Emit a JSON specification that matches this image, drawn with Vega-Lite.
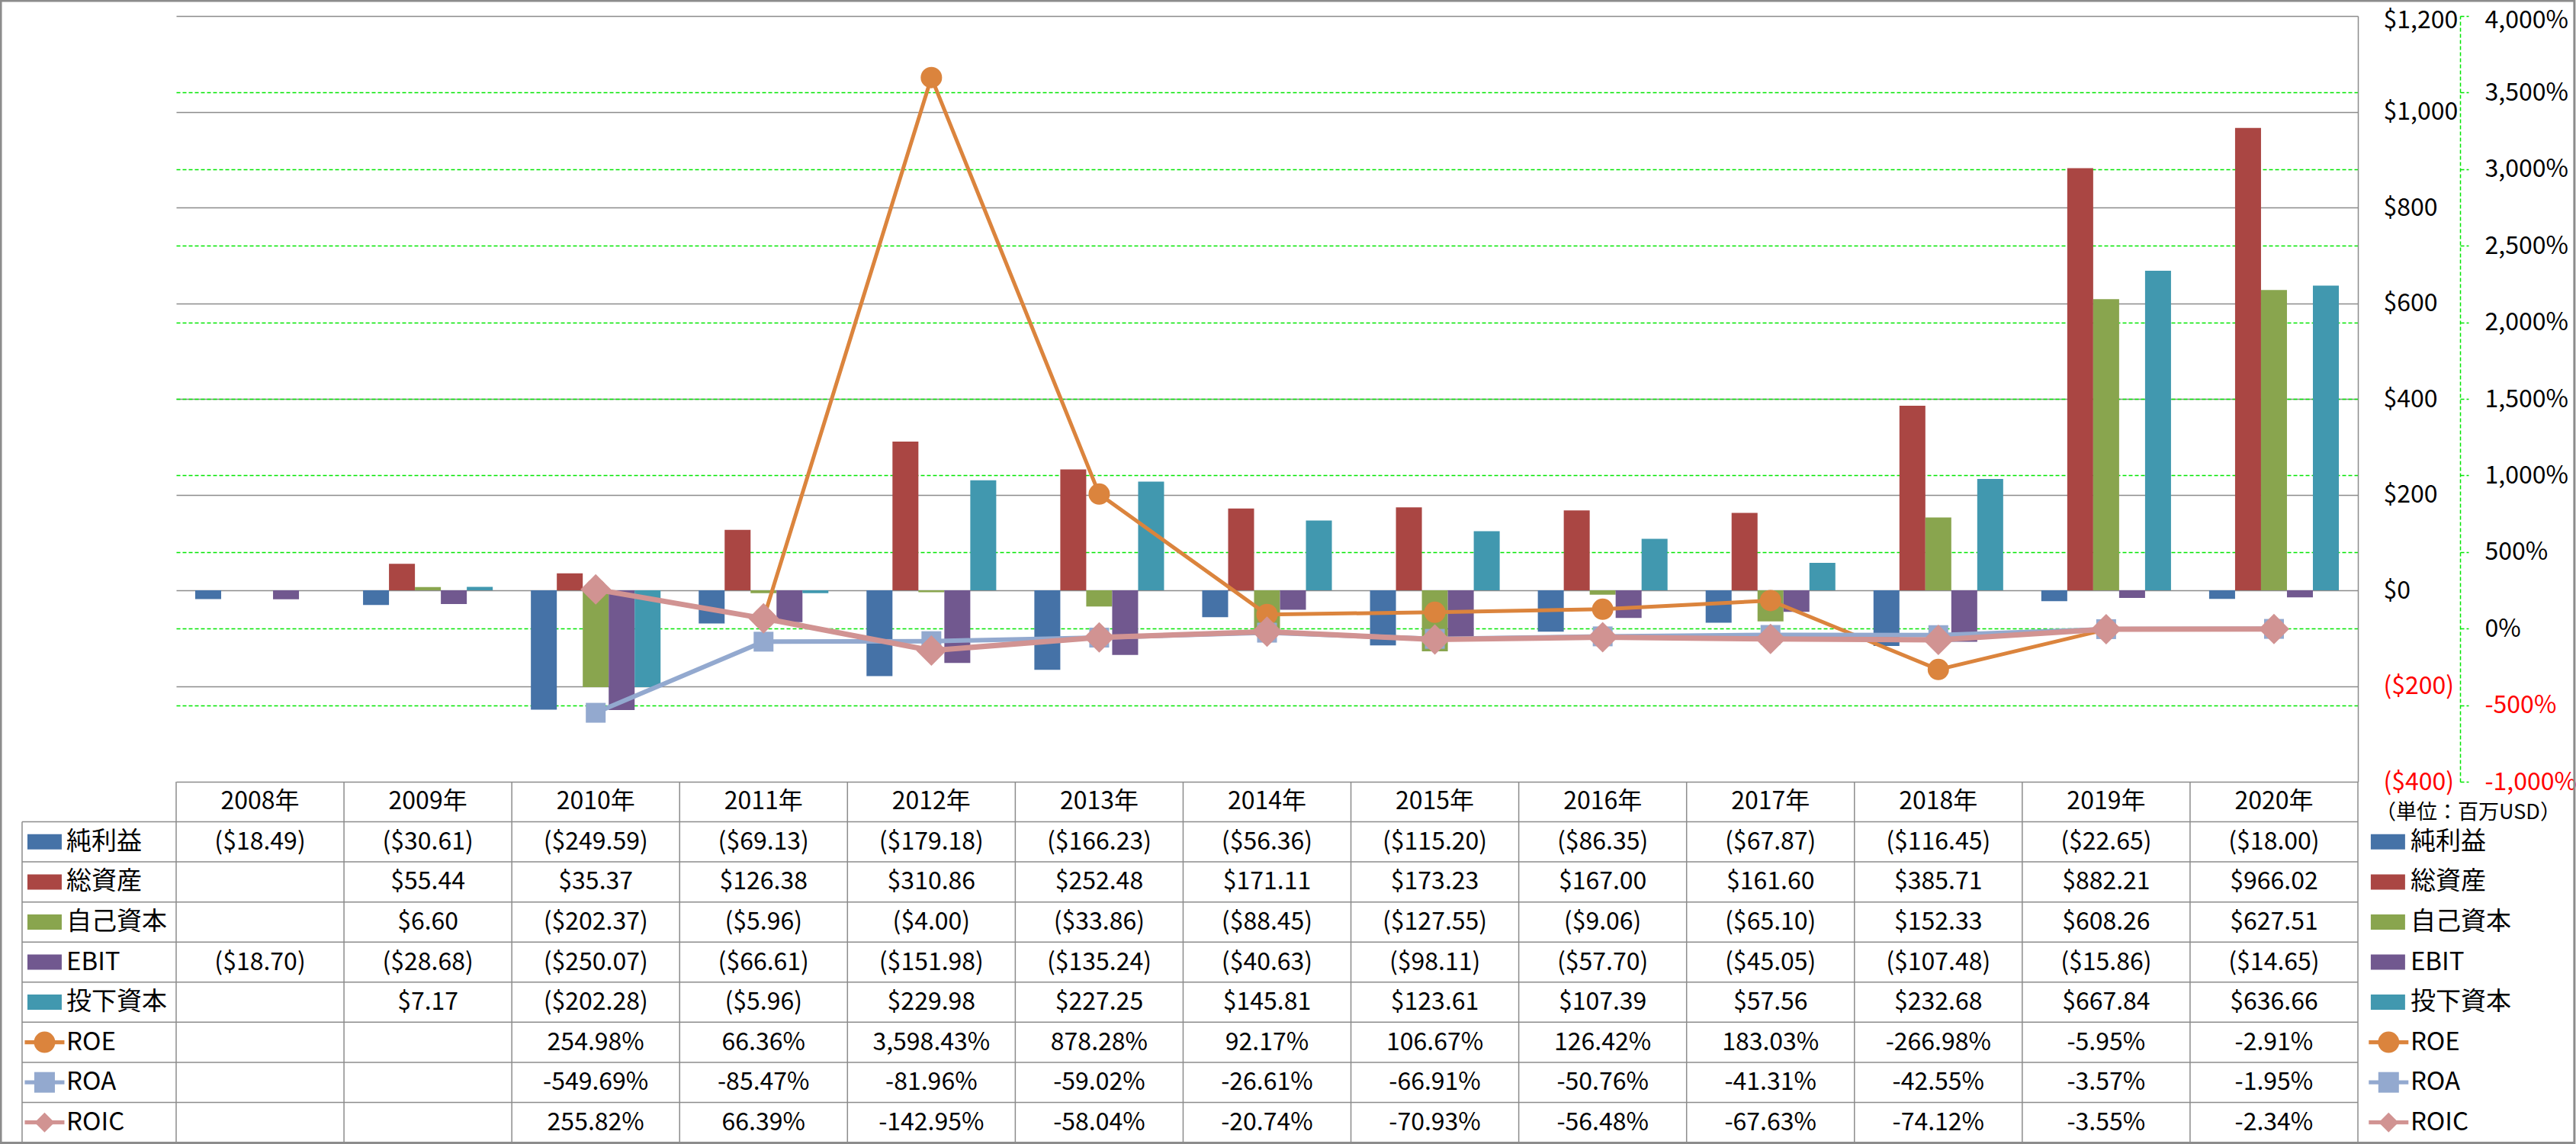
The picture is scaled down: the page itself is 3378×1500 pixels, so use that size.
{
"$schema": "https://vega.github.io/schema/vega-lite/v6.json",
"width": 2861, "height": 1477,
"autosize": {"type": "none"},
"padding": {"left": 231, "top": 21, "right": 286, "bottom": 2},
"background": "white",
"config": {
  "view": {"stroke": null},
  "font": "Noto Sans CJK JP",
  "locale": {"number": {"decimal": ".", "thousands": ",", "grouping": [3], "currency": ["$", ""], "minus": "-"}}
},
"datasets": {
  "fin": [
    {"year":2008,"series":"純利益","value":-18.49},{"year":2009,"series":"純利益","value":-30.61},{"year":2010,"series":"純利益","value":-249.59},{"year":2011,"series":"純利益","value":-69.13},{"year":2012,"series":"純利益","value":-179.18},{"year":2013,"series":"純利益","value":-166.23},{"year":2014,"series":"純利益","value":-56.36},{"year":2015,"series":"純利益","value":-115.20},{"year":2016,"series":"純利益","value":-86.35},{"year":2017,"series":"純利益","value":-67.87},{"year":2018,"series":"純利益","value":-116.45},{"year":2019,"series":"純利益","value":-22.65},{"year":2020,"series":"純利益","value":-18.00},
    {"year":2009,"series":"総資産","value":55.44},{"year":2010,"series":"総資産","value":35.37},{"year":2011,"series":"総資産","value":126.38},{"year":2012,"series":"総資産","value":310.86},{"year":2013,"series":"総資産","value":252.48},{"year":2014,"series":"総資産","value":171.11},{"year":2015,"series":"総資産","value":173.23},{"year":2016,"series":"総資産","value":167.00},{"year":2017,"series":"総資産","value":161.60},{"year":2018,"series":"総資産","value":385.71},{"year":2019,"series":"総資産","value":882.21},{"year":2020,"series":"総資産","value":966.02},
    {"year":2009,"series":"自己資本","value":6.60},{"year":2010,"series":"自己資本","value":-202.37},{"year":2011,"series":"自己資本","value":-5.96},{"year":2012,"series":"自己資本","value":-4.00},{"year":2013,"series":"自己資本","value":-33.86},{"year":2014,"series":"自己資本","value":-88.45},{"year":2015,"series":"自己資本","value":-127.55},{"year":2016,"series":"自己資本","value":-9.06},{"year":2017,"series":"自己資本","value":-65.10},{"year":2018,"series":"自己資本","value":152.33},{"year":2019,"series":"自己資本","value":608.26},{"year":2020,"series":"自己資本","value":627.51},
    {"year":2008,"series":"EBIT","value":-18.70},{"year":2009,"series":"EBIT","value":-28.68},{"year":2010,"series":"EBIT","value":-250.07},{"year":2011,"series":"EBIT","value":-66.61},{"year":2012,"series":"EBIT","value":-151.98},{"year":2013,"series":"EBIT","value":-135.24},{"year":2014,"series":"EBIT","value":-40.63},{"year":2015,"series":"EBIT","value":-98.11},{"year":2016,"series":"EBIT","value":-57.70},{"year":2017,"series":"EBIT","value":-45.05},{"year":2018,"series":"EBIT","value":-107.48},{"year":2019,"series":"EBIT","value":-15.86},{"year":2020,"series":"EBIT","value":-14.65},
    {"year":2009,"series":"投下資本","value":7.17},{"year":2010,"series":"投下資本","value":-202.28},{"year":2011,"series":"投下資本","value":-5.96},{"year":2012,"series":"投下資本","value":229.98},{"year":2013,"series":"投下資本","value":227.25},{"year":2014,"series":"投下資本","value":145.81},{"year":2015,"series":"投下資本","value":123.61},{"year":2016,"series":"投下資本","value":107.39},{"year":2017,"series":"投下資本","value":57.56},{"year":2018,"series":"投下資本","value":232.68},{"year":2019,"series":"投下資本","value":667.84},{"year":2020,"series":"投下資本","value":636.66}
  ],
  "ratio": [
    {"year":2010,"series":"ROE","value":2.5498},{"year":2011,"series":"ROE","value":0.6636},{"year":2012,"series":"ROE","value":35.9843},{"year":2013,"series":"ROE","value":8.7828},{"year":2014,"series":"ROE","value":0.9217},{"year":2015,"series":"ROE","value":1.0667},{"year":2016,"series":"ROE","value":1.2642},{"year":2017,"series":"ROE","value":1.8303},{"year":2018,"series":"ROE","value":-2.6698},{"year":2019,"series":"ROE","value":-0.0595},{"year":2020,"series":"ROE","value":-0.0291},
    {"year":2010,"series":"ROA","value":-5.4969},{"year":2011,"series":"ROA","value":-0.8547},{"year":2012,"series":"ROA","value":-0.8196},{"year":2013,"series":"ROA","value":-0.5902},{"year":2014,"series":"ROA","value":-0.2661},{"year":2015,"series":"ROA","value":-0.6691},{"year":2016,"series":"ROA","value":-0.5076},{"year":2017,"series":"ROA","value":-0.4131},{"year":2018,"series":"ROA","value":-0.4255},{"year":2019,"series":"ROA","value":-0.0357},{"year":2020,"series":"ROA","value":-0.0195},
    {"year":2010,"series":"ROIC","value":2.5582},{"year":2011,"series":"ROIC","value":0.6639},{"year":2012,"series":"ROIC","value":-1.4295},{"year":2013,"series":"ROIC","value":-0.5804},{"year":2014,"series":"ROIC","value":-0.2074},{"year":2015,"series":"ROIC","value":-0.7093},{"year":2016,"series":"ROIC","value":-0.5648},{"year":2017,"series":"ROIC","value":-0.6763},{"year":2018,"series":"ROIC","value":-0.7412},{"year":2019,"series":"ROIC","value":-0.0355},{"year":2020,"series":"ROIC","value":-0.0234}
  ],
  "years": [
    {"year":2008,"label":"2008年"},{"year":2009,"label":"2009年"},{"year":2010,"label":"2010年"},{"year":2011,"label":"2011年"},{"year":2012,"label":"2012年"},{"year":2013,"label":"2013年"},{"year":2014,"label":"2014年"},{"year":2015,"label":"2015年"},{"year":2016,"label":"2016年"},{"year":2017,"label":"2017年"},{"year":2018,"label":"2018年"},{"year":2019,"label":"2019年"},{"year":2020,"label":"2020年"}
  ],
  "hlines": [{"r":1},{"r":2},{"r":3},{"r":4},{"r":5},{"r":6},{"r":7},{"r":8},{"r":9}],
  "legend": [
    {"series":"純利益","kind":"bar"},{"series":"総資産","kind":"bar"},{"series":"自己資本","kind":"bar"},{"series":"EBIT","kind":"bar"},{"series":"投下資本","kind":"bar"},
    {"series":"ROE","kind":"line"},{"series":"ROA","kind":"line"},{"series":"ROIC","kind":"line"}
  ]
},
"resolve": {
  "scale": {"x": "independent", "y": "independent", "color": "independent", "shape": "independent", "size": "independent", "xOffset": "independent"},
  "axis": {"x": "independent", "y": "independent"}
},
"layer": [
  {
    "data": {"name": "fin"},
    "mark": {"type": "bar"},
    "encoding": {
      "x": {"field": "year", "type": "ordinal", "scale": {"type": "band", "domain": [2008,2009,2010,2011,2012,2013,2014,2015,2016,2017,2018,2019,2020], "paddingInner": 0, "paddingOuter": 0}, "axis": null},
      "xOffset": {"field": "series", "type": "nominal", "scale": {"domain": ["純利益","総資産","自己資本","EBIT","投下資本"], "paddingInner": 0, "paddingOuter": 0.735}},
      "y": {"field": "value", "type": "quantitative",
        "scale": {"domain": [-400, 1200], "range": [1004, 0], "nice": false},
        "axis": {"orient": "right", "values": [-400,-200,0,200,400,600,800,1000,1200], "format": "($,.0f",
          "ticks": false, "tickSize": 0, "domain": true, "domainColor": "#8c8c8c", "domainWidth": 1.5,
          "grid": true, "gridColor": "#8c8c8c", "gridWidth": 1.5,
          "labelAlign": "left", "labelBaseline": "middle", "labelPadding": 33, "labelFontSize": 32, "labelFont": "Noto Sans CJK JP",
          "labelOffset": {"condition": {"test": "datum.value >= 1200", "value": 5}, "value": 0},
          "labelColor": {"condition": {"test": "datum.value < 0", "value": "#ff0000"}, "value": "#000000"},
          "labelFlush": false, "labelOverlap": false, "title": null}},
      "color": {"field": "series", "type": "nominal", "scale": {"domain": ["純利益","総資産","自己資本","EBIT","投下資本"], "range": ["#4572A7","#AA4643","#89A54E","#71588F","#4198AF"]}, "legend": null}
    }
  },
  {
    "data": {"name": "ratio"},
    "transform": [{"filter": "datum.series === 'ROE'"}],
    "mark": {"type": "line", "color": "#DB843D", "strokeWidth": 5, "point": {"shape": "circle", "size": 784, "filled": true, "color": "#DB843D", "opacity": 1}},
    "encoding": {
      "x": {"field": "year", "type": "ordinal", "scale": {"type": "point", "domain": [2008,2009,2010,2011,2012,2013,2014,2015,2016,2017,2018,2019,2020], "padding": 0.5}, "axis": null},
      "y": {"field": "value", "type": "quantitative",
        "scale": {"domain": [-10, 40], "range": [1004, 0], "nice": false, "zero": false},
        "axis": {"orient": "right", "offset": 134, "values": [-10,-5,0,5,10,15,20,25,30,35,40], "format": ",.0%",
          "domain": true, "domainColor": "#00e600", "domainDash": [5,3], "domainWidth": 1.5,
          "ticks": true, "tickSize": 11, "tickColor": "#00e600", "tickDash": [5,3], "tickWidth": 1.5,
          "grid": true, "gridColor": "#00e600", "gridDash": [5,3], "gridWidth": 1.5,
          "gridOpacity": {"condition": {"test": "datum.value <= -10 || datum.value >= 40", "value": 0}, "value": 1},
          "labelAlign": "left", "labelBaseline": "middle", "labelPadding": 21, "labelFontSize": 32, "labelFont": "Noto Sans CJK JP",
          "labelOffset": {"condition": {"test": "datum.value >= 40", "value": 5}, "value": 0},
          "labelColor": {"condition": {"test": "datum.value < 0", "value": "#ff0000"}, "value": "#000000"},
          "labelFlush": false, "labelOverlap": false, "title": null}}
    }
  },
  {
    "data": {"name": "ratio"},
    "transform": [{"filter": "datum.series === 'ROA'"}],
    "mark": {"type": "line", "color": "#93A9CF", "strokeWidth": 6, "point": {"shape": "square", "size": 676, "filled": true, "color": "#93A9CF", "opacity": 1}},
    "encoding": {
      "x": {"field": "year", "type": "ordinal", "scale": {"type": "point", "domain": [2008,2009,2010,2011,2012,2013,2014,2015,2016,2017,2018,2019,2020], "padding": 0.5}, "axis": null},
      "y": {"field": "value", "type": "quantitative", "scale": {"domain": [-10, 40], "range": [1004, 0], "nice": false, "zero": false}, "axis": null}
    }
  },
  {
    "data": {"name": "ratio"},
    "transform": [{"filter": "datum.series === 'ROIC'"}],
    "mark": {"type": "line", "color": "#D19392", "strokeWidth": 7, "point": {"shape": "diamond", "size": 1600, "filled": true, "color": "#D19392", "opacity": 1}},
    "encoding": {
      "x": {"field": "year", "type": "ordinal", "scale": {"type": "point", "domain": [2008,2009,2010,2011,2012,2013,2014,2015,2016,2017,2018,2019,2020], "padding": 0.5}, "axis": null},
      "y": {"field": "value", "type": "quantitative", "scale": {"domain": [-10, 40], "range": [1004, 0], "nice": false, "zero": false}, "axis": null}
    }
  },
  {
    "data": {"name": "hlines"},
    "mark": {"type": "rule", "color": "#8c8c8c", "strokeWidth": 1.5},
    "encoding": {
      "x": {"datum": 2007.082, "type": "quantitative", "scale": {"domain": [2008, 2021], "nice": false, "zero": false}, "axis": null},
      "x2": {"datum": 2021},
      "y": {"field": "r", "type": "quantitative", "scale": {"domain": [0, 9], "range": [1004, 1477], "nice": false, "zero": false}, "axis": null}
    }
  },
  {
    "data": {"name": "years"},
    "mark": {"type": "rule", "color": "#8c8c8c", "strokeWidth": 1.5},
    "encoding": {
      "x": {"field": "year", "type": "quantitative", "scale": {"domain": [2008, 2021], "nice": false, "zero": false}, "axis": null},
      "y": {"datum": 0, "type": "quantitative", "scale": {"domain": [0, 9], "range": [1004, 1477], "nice": false, "zero": false}, "axis": null},
      "y2": {"datum": 9}
    }
  },
  {
    "data": {"values": [{"edge": "right"}]},
    "mark": {"type": "rule", "color": "#8c8c8c", "strokeWidth": 1.5},
    "encoding": {
      "x": {"datum": 2021, "type": "quantitative", "scale": {"domain": [2008, 2021], "nice": false, "zero": false}, "axis": null},
      "y": {"datum": 0, "type": "quantitative", "scale": {"domain": [0, 9], "range": [1004, 1477], "nice": false, "zero": false}, "axis": null},
      "y2": {"datum": 9}
    }
  },
  {
    "data": {"values": [{"edge": "left"}]},
    "mark": {"type": "rule", "color": "#8c8c8c", "strokeWidth": 1.5},
    "encoding": {
      "x": {"datum": 2007.082, "type": "quantitative", "scale": {"domain": [2008, 2021], "nice": false, "zero": false}, "axis": null},
      "y": {"datum": 1, "type": "quantitative", "scale": {"domain": [0, 9], "range": [1004, 1477], "nice": false, "zero": false}, "axis": null},
      "y2": {"datum": 9}
    }
  },
  {
    "data": {"values": [{"edge": "frame"}]},
    "mark": {"type": "rect", "fill": "transparent", "stroke": "#8c8c8c", "strokeWidth": 3},
    "encoding": {
      "x": {"datum": 2006.955, "type": "quantitative", "scale": {"domain": [2008, 2021], "nice": false, "zero": false}, "axis": null},
      "x2": {"datum": 2022.29},
      "y": {"datum": -19.484, "type": "quantitative", "scale": {"domain": [0, 9], "range": [1004, 1477], "nice": false, "zero": false}, "axis": null},
      "y2": {"datum": 9.0095}
    }
  },
  {
    "data": {"name": "years"},
    "mark": {"type": "text", "fontSize": 32, "color": "#000000", "align": "center", "baseline": "middle"},
    "encoding": {
      "x": {"field": "year", "type": "ordinal", "scale": {"type": "point", "domain": [2008,2009,2010,2011,2012,2013,2014,2015,2016,2017,2018,2019,2020], "padding": 0.5}, "axis": null},
      "y": {"datum": "header", "type": "ordinal", "scale": {"type": "point", "domain": ["header","純利益","総資産","自己資本","EBIT","投下資本","ROE","ROA","ROIC"], "range": [1004, 1477], "padding": 0.5}, "axis": null},
      "text": {"field": "label"}
    }
  },
  {
    "data": {"name": "fin"},
    "mark": {"type": "text", "fontSize": 32, "color": "#000000", "align": "center", "baseline": "middle"},
    "encoding": {
      "x": {"field": "year", "type": "ordinal", "scale": {"type": "point", "domain": [2008,2009,2010,2011,2012,2013,2014,2015,2016,2017,2018,2019,2020], "padding": 0.5}, "axis": null},
      "y": {"field": "series", "type": "ordinal", "scale": {"type": "point", "domain": ["header","純利益","総資産","自己資本","EBIT","投下資本","ROE","ROA","ROIC"], "range": [1004, 1477], "padding": 0.5}, "axis": null},
      "text": {"field": "value", "type": "quantitative", "format": "($,.2f"}
    }
  },
  {
    "data": {"name": "ratio"},
    "mark": {"type": "text", "fontSize": 32, "color": "#000000", "align": "center", "baseline": "middle"},
    "encoding": {
      "x": {"field": "year", "type": "ordinal", "scale": {"type": "point", "domain": [2008,2009,2010,2011,2012,2013,2014,2015,2016,2017,2018,2019,2020], "padding": 0.5}, "axis": null},
      "y": {"field": "series", "type": "ordinal", "scale": {"type": "point", "domain": ["header","純利益","総資産","自己資本","EBIT","投下資本","ROE","ROA","ROIC"], "range": [1004, 1477], "padding": 0.5}, "axis": null},
      "text": {"field": "value", "type": "quantitative", "format": ",.2%"}
    }
  },
  {
    "data": {"name": "legend"},
    "transform": [{"filter": "datum.kind === 'bar'"}],
    "mark": {"type": "point", "shape": "M-1,-0.444L1,-0.444L1,0.444L-1,0.444Z", "size": 2025, "filled": true, "opacity": 1},
    "encoding": {
      "x": {"datum": 2007.216, "type": "quantitative", "scale": {"domain": [2008, 2021], "nice": false, "zero": false}, "axis": null},
      "y": {"field": "series", "type": "ordinal", "scale": {"type": "point", "domain": ["header","純利益","総資産","自己資本","EBIT","投下資本","ROE","ROA","ROIC"], "range": [1004, 1477], "padding": 0.5}, "axis": null},
      "color": {"field": "series", "type": "nominal", "scale": {"domain": ["純利益","総資産","自己資本","EBIT","投下資本","ROE","ROA","ROIC"], "range": ["#4572A7","#AA4643","#89A54E","#71588F","#4198AF","#DB843D","#93A9CF","#D19392"]}, "legend": null}
    }
  },
  {
    "data": {"name": "legend"},
    "transform": [{"filter": "datum.kind === 'bar'"}],
    "mark": {"type": "point", "shape": "M-1,-0.444L1,-0.444L1,0.444L-1,0.444Z", "size": 2025, "filled": true, "opacity": 1},
    "encoding": {
      "x": {"datum": 2021.179, "type": "quantitative", "scale": {"domain": [2008, 2021], "nice": false, "zero": false}, "axis": null},
      "y": {"field": "series", "type": "ordinal", "scale": {"type": "point", "domain": ["header","純利益","総資産","自己資本","EBIT","投下資本","ROE","ROA","ROIC"], "range": [1004, 1477], "padding": 0.5}, "axis": null},
      "color": {"field": "series", "type": "nominal", "scale": {"domain": ["純利益","総資産","自己資本","EBIT","投下資本","ROE","ROA","ROIC"], "range": ["#4572A7","#AA4643","#89A54E","#71588F","#4198AF","#DB843D","#93A9CF","#D19392"]}, "legend": null}
    }
  },
  {
    "data": {"name": "legend"},
    "transform": [{"filter": "datum.kind === 'line'"}],
    "mark": {"type": "point", "shape": "M-1,-0.1L1,-0.1L1,0.1L-1,0.1Z", "size": 2704, "filled": true, "opacity": 1},
    "encoding": {
      "x": {"datum": 2007.216, "type": "quantitative", "scale": {"domain": [2008, 2021], "nice": false, "zero": false}, "axis": null},
      "y": {"field": "series", "type": "ordinal", "scale": {"type": "point", "domain": ["header","純利益","総資産","自己資本","EBIT","投下資本","ROE","ROA","ROIC"], "range": [1004, 1477], "padding": 0.5}, "axis": null},
      "color": {"field": "series", "type": "nominal", "scale": {"domain": ["ROE","ROA","ROIC"], "range": ["#DB843D","#93A9CF","#D19392"]}, "legend": null}
    }
  },
  {
    "data": {"name": "legend"},
    "transform": [{"filter": "datum.kind === 'line'"}],
    "mark": {"type": "point", "shape": "M-1,-0.1L1,-0.1L1,0.1L-1,0.1Z", "size": 2704, "filled": true, "opacity": 1},
    "encoding": {
      "x": {"datum": 2021.183, "type": "quantitative", "scale": {"domain": [2008, 2021], "nice": false, "zero": false}, "axis": null},
      "y": {"field": "series", "type": "ordinal", "scale": {"type": "point", "domain": ["header","純利益","総資産","自己資本","EBIT","投下資本","ROE","ROA","ROIC"], "range": [1004, 1477], "padding": 0.5}, "axis": null},
      "color": {"field": "series", "type": "nominal", "scale": {"domain": ["ROE","ROA","ROIC"], "range": ["#DB843D","#93A9CF","#D19392"]}, "legend": null}
    }
  },
  {
    "data": {"name": "legend"},
    "transform": [{"filter": "datum.kind === 'line'"}],
    "mark": {"type": "point", "filled": true, "opacity": 1},
    "encoding": {
      "x": {"datum": 2007.216, "type": "quantitative", "scale": {"domain": [2008, 2021], "nice": false, "zero": false}, "axis": null},
      "y": {"field": "series", "type": "ordinal", "scale": {"type": "point", "domain": ["header","純利益","総資産","自己資本","EBIT","投下資本","ROE","ROA","ROIC"], "range": [1004, 1477], "padding": 0.5}, "axis": null},
      "color": {"field": "series", "type": "nominal", "scale": {"domain": ["ROE","ROA","ROIC"], "range": ["#DB843D","#93A9CF","#D19392"]}, "legend": null},
      "shape": {"field": "series", "type": "nominal", "scale": {"domain": ["ROE","ROA","ROIC"], "range": ["circle","square","diamond"]}, "legend": null},
      "size": {"field": "series", "type": "nominal", "scale": {"domain": ["ROE","ROA","ROIC"], "range": [784, 676, 1100]}, "legend": null}
    }
  },
  {
    "data": {"name": "legend"},
    "transform": [{"filter": "datum.kind === 'line'"}],
    "mark": {"type": "point", "filled": true, "opacity": 1},
    "encoding": {
      "x": {"datum": 2021.183, "type": "quantitative", "scale": {"domain": [2008, 2021], "nice": false, "zero": false}, "axis": null},
      "y": {"field": "series", "type": "ordinal", "scale": {"type": "point", "domain": ["header","純利益","総資産","自己資本","EBIT","投下資本","ROE","ROA","ROIC"], "range": [1004, 1477], "padding": 0.5}, "axis": null},
      "color": {"field": "series", "type": "nominal", "scale": {"domain": ["ROE","ROA","ROIC"], "range": ["#DB843D","#93A9CF","#D19392"]}, "legend": null},
      "shape": {"field": "series", "type": "nominal", "scale": {"domain": ["ROE","ROA","ROIC"], "range": ["circle","square","diamond"]}, "legend": null},
      "size": {"field": "series", "type": "nominal", "scale": {"domain": ["ROE","ROA","ROIC"], "range": [784, 676, 1100]}, "legend": null}
    }
  },
  {
    "data": {"name": "legend"},
    "mark": {"type": "text", "fontSize": 33, "color": "#000000", "align": "left", "baseline": "middle"},
    "encoding": {
      "x": {"datum": 2007.346, "type": "quantitative", "scale": {"domain": [2008, 2021], "nice": false, "zero": false}, "axis": null},
      "y": {"field": "series", "type": "ordinal", "scale": {"type": "point", "domain": ["header","純利益","総資産","自己資本","EBIT","投下資本","ROE","ROA","ROIC"], "range": [1004, 1477], "padding": 0.5}, "axis": null},
      "text": {"field": "series"}
    }
  },
  {
    "data": {"name": "legend"},
    "mark": {"type": "text", "fontSize": 33, "color": "#000000", "align": "left", "baseline": "middle"},
    "encoding": {
      "x": {"datum": 2021.313, "type": "quantitative", "scale": {"domain": [2008, 2021], "nice": false, "zero": false}, "axis": null},
      "y": {"field": "series", "type": "ordinal", "scale": {"type": "point", "domain": ["header","純利益","総資産","自己資本","EBIT","投下資本","ROE","ROA","ROIC"], "range": [1004, 1477], "padding": 0.5}, "axis": null},
      "text": {"field": "series"}
    }
  },
  {
    "data": {"values": [{"note": "（単位：百万USD）"}]},
    "mark": {"type": "text", "fontSize": 27, "color": "#000000", "align": "left", "baseline": "middle"},
    "encoding": {
      "x": {"datum": 2021.105, "type": "quantitative", "scale": {"domain": [2008, 2021], "nice": false, "zero": false}, "axis": null},
      "y": {"datum": 0.78, "type": "quantitative", "scale": {"domain": [0, 9], "range": [1004, 1477], "nice": false, "zero": false}, "axis": null},
      "text": {"field": "note"}
    }
  }
]
}
